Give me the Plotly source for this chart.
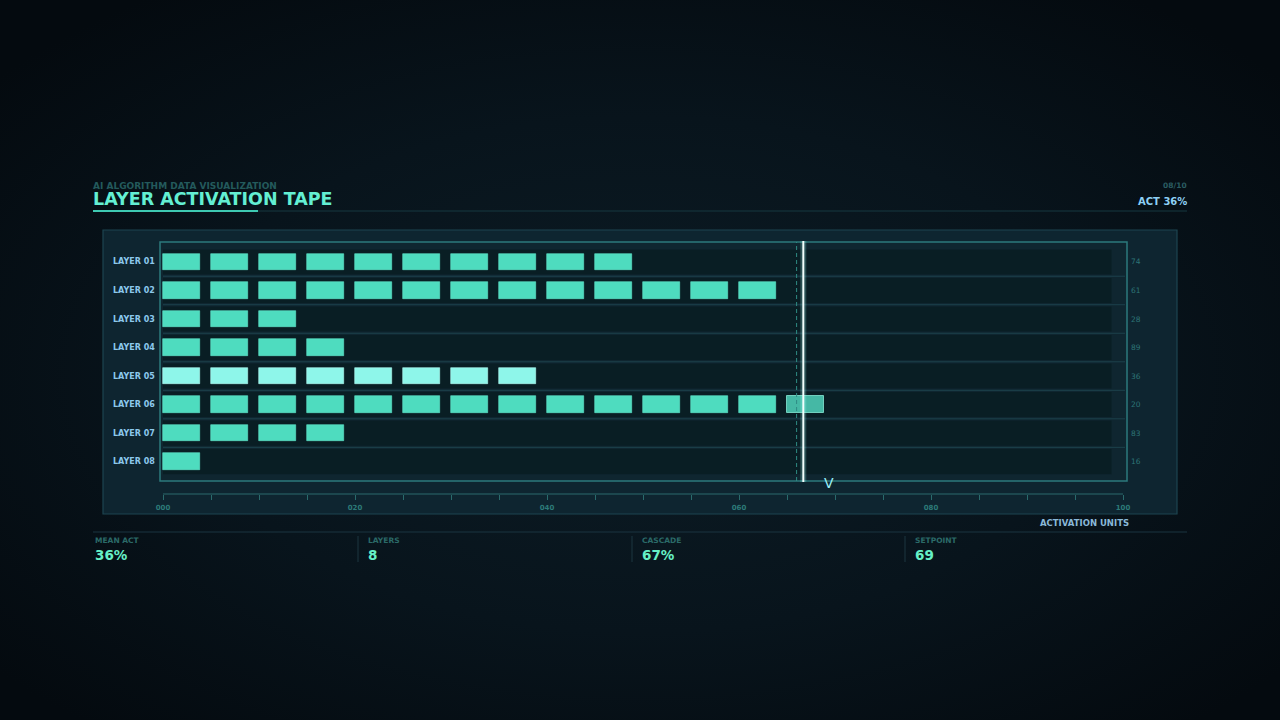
import base64
import plotly.graph_objects as go

# ---------------- data ----------------
layers = ["LAYER 01", "LAYER 02", "LAYER 03", "LAYER 04",
          "LAYER 05", "LAYER 06", "LAYER 07", "LAYER 08"]
activation = [51, 66, 15, 21, 40, 70, 20, 5]
side_values = [74, 61, 28, 89, 36, 20, 83, 16]
highlight_layer = "LAYER 05"
block_size = 5
cascade = 66.7
reference_mark = 66
setpoint = 69
tick_vals = list(range(0, 101, 5))
tick_labels = [f"{v:03d}" if v % 20 == 0 else "" for v in tick_vals]
page_label = "08/10"

# ---------------- helpers ----------------
W, H = 1280, 720
def px(x):
    return x / W
def py(y):
    return 1 - y / H

FONT = "DejaVu Sans"
BLOCK = "#4edcbf"
BLOCK_HI = "#8ef6ea"
BLOCK_DIM = "rgba(80,212,188,0.85)"

# build blocks
norm_y, norm_x, norm_b = [], [], []
hi_y, hi_x, hi_b = [], [], []
dim_y, dim_x, dim_b = [], [], []
block_w = block_size * 0.775
for i, (name, val) in enumerate(zip(layers, activation)):
    n = val // block_size
    for k in range(n):
        start = k * block_size
        if start <= cascade < start + block_size:
            dim_y.append(i); dim_x.append(block_w); dim_b.append(start)
        elif name == highlight_layer:
            hi_y.append(i); hi_x.append(block_w); hi_b.append(start)
        else:
            norm_y.append(i); norm_x.append(block_w); norm_b.append(start)

fig = go.Figure()
bar_h = 0.58
fig.add_trace(go.Bar(orientation="h", y=norm_y, x=norm_x, base=norm_b, width=bar_h,
                     marker=dict(color=BLOCK, line=dict(width=0.6, color="#63e8cf")),
                     showlegend=False, hoverinfo="skip"))
fig.add_trace(go.Bar(orientation="h", y=hi_y, x=hi_x, base=hi_b, width=bar_h,
                     marker=dict(color=BLOCK_HI, line=dict(width=0.6, color="#b5fff6")),
                     showlegend=False, hoverinfo="skip"))
fig.add_trace(go.Bar(orientation="h", y=dim_y, x=dim_x, base=dim_b, width=bar_h,
                     marker=dict(color=BLOCK_DIM, line=dict(width=1, color="rgba(140,240,220,0.75)")),
                     showlegend=False, hoverinfo="skip"))
# hidden trace to bring in the secondary tick axis
fig.add_trace(go.Scatter(x=[0, 100], y=[0, 0], xaxis="x2", yaxis="y",
                         mode="markers", marker=dict(opacity=0), showlegend=False,
                         hoverinfo="skip"))

# ---------------- background gradient ----------------
svg = f'''<svg xmlns="http://www.w3.org/2000/svg" width="{W}" height="{H}">
<defs><radialGradient id="g" cx="50%" cy="52%" r="65%">
<stop offset="0%" stop-color="#0c1c25"/>
<stop offset="55%" stop-color="#08141c"/>
<stop offset="100%" stop-color="#040a0f"/>
</radialGradient></defs>
<rect width="100%" height="100%" fill="url(#g)"/></svg>'''
bg_uri = "data:image/svg+xml;base64," + base64.b64encode(svg.encode()).decode()

shapes = []
# panel
shapes.append(dict(type="rect", xref="paper", yref="paper", x0=px(103), x1=px(1177),
                   y0=py(514), y1=py(230), fillcolor="#0e2530",
                   line=dict(color="#1d4550", width=1.2), layer="below"))
# plot area fill
shapes.append(dict(type="rect", xref="paper", yref="paper", x0=px(160), x1=px(1127),
                   y0=py(481), y1=py(242), fillcolor="#0f2630",
                   line=dict(width=0), layer="below"))
# row tracks and separators
for i in range(len(layers)):
    shapes.append(dict(type="rect", xref="x", yref="y", x0=0, x1=98.8,
                       y0=i - 0.44, y1=i + 0.44, fillcolor="rgba(8,28,32,0.75)",
                       line=dict(width=0), layer="below"))
    if i < len(layers) - 1:
        shapes.append(dict(type="line", xref="paper", yref="y", x0=px(163), x1=px(1125),
                           y0=i + 0.5, y1=i + 0.5,
                           line=dict(color="rgba(45,100,110,0.45)", width=1), layer="below"))
# plot frame
shapes.append(dict(type="rect", xref="paper", yref="paper", x0=px(160), x1=px(1127),
                   y0=py(481), y1=py(242), line=dict(color="#2c7a7c", width=1.5)))
# reference dashed line
shapes.append(dict(type="line", xref="x", yref="paper", x0=reference_mark, x1=reference_mark,
                   y0=py(481), y1=py(242), line=dict(color="#2f8c84", width=1, dash="4px,3px")))
# playhead glow + line
shapes.append(dict(type="line", xref="x", yref="paper", x0=cascade, x1=cascade,
                   y0=py(482), y1=py(241), line=dict(color="rgba(150,255,245,0.22)", width=6)))
shapes.append(dict(type="line", xref="x", yref="paper", x0=cascade, x1=cascade,
                   y0=py(482), y1=py(241), line=dict(color="#f2fffd", width=2)))
# axis base line
shapes.append(dict(type="line", xref="x", yref="paper", x0=0, x1=100,
                   y0=py(494), y1=py(494), line=dict(color="#2a6a6c", width=1)))
# header rule
shapes.append(dict(type="line", xref="paper", yref="paper", x0=px(93), x1=px(1187),
                   y0=py(211), y1=py(211), line=dict(color="#173840", width=1)))
shapes.append(dict(type="line", xref="paper", yref="paper", x0=px(93), x1=px(258),
                   y0=py(211), y1=py(211), line=dict(color="#3ec9b2", width=2)))
# footer rule and dividers
shapes.append(dict(type="line", xref="paper", yref="paper", x0=px(93), x1=px(1187),
                   y0=py(532), y1=py(532), line=dict(color="#1a3440", width=1)))
for xd in [358, 632, 905]:
    shapes.append(dict(type="line", xref="paper", yref="paper", x0=px(xd), x1=px(xd),
                       y0=py(562), y1=py(536), line=dict(color="#1c3640", width=1)))

ann = []
def text(x, y, s, size, color, anchor="left", weight="bold", yanchor="middle", xref="paper", yref="paper", family=FONT):
    ann.append(dict(x=x, y=y, xref=xref, yref=yref, text=s, showarrow=False,
                    xanchor=anchor, yanchor=yanchor, borderpad=0,
                    font=dict(family=family, size=size, color=color, weight=weight)))

text(px(92), py(186), "AI ALGORITHM DATA VISUALIZATION", 9, "#235a5c")
text(px(92), py(199), "LAYER ACTIVATION TAPE", 17.5, "#63efd3")
text(px(1188), py(186), page_label, 7.5, "#2a5c62", anchor="right")
mean_act = round(sum(activation) / len(activation))
text(px(1188), py(201), f"ACT {mean_act}%", 10, "#8ed0f5", anchor="right")

for i, name in enumerate(layers):
    text(px(156), i, name, 8, "#8cc8ec", anchor="right", yref="y")
    text(px(1130), i, str(side_values[i]), 7.5, "#2d7476", anchor="left", yref="y", weight="normal")

# setpoint marker
ann.append(dict(x=setpoint, y=py(483), xref="x", yref="paper", text="V", showarrow=False,
                xanchor="center", yanchor="middle", xshift=4,
                font=dict(family=FONT, size=14, color="#9aeef6")))

text(px(1130), py(523), "ACTIVATION UNITS", 8.5, "#8ab8d8", anchor="right")

stats = [("MEAN ACT", f"{mean_act}%", 94), ("LAYERS", str(len(layers)), 367),
         ("CASCADE", f"{round(cascade)}%", 641), ("SETPOINT", str(setpoint), 914)]
for lab, val, xx in stats:
    text(px(xx), py(540), lab, 7.5, "#2b6a68")
    text(px(xx), py(555), val, 13.5, "#66f0c6")

fig.update_layout(
    width=W, height=H, margin=dict(l=0, r=0, t=0, b=0, pad=0, autoexpand=False), autosize=False,
    paper_bgcolor="#060d13", plot_bgcolor="rgba(0,0,0,0)",
    barmode="overlay", bargap=0,
    xaxis=dict(domain=[px(160), px(1127)], range=[-0.3125, 100.4167],
               showgrid=False, zeroline=False, showticklabels=False, ticks="",
               showline=False, fixedrange=True, automargin=False),
    xaxis2=dict(domain=[px(160), px(1127)], range=[-0.3125, 100.4167], anchor="free",
                overlaying="x", side="bottom", position=py(494),
                tickmode="array", tickvals=tick_vals, ticktext=tick_labels,
                ticks="outside", ticklen=5, tickwidth=1, tickcolor="#2a6a6c",
                tickfont=dict(family=FONT, size=7, color="#2c7a78", weight="bold"),
                ticklabelstandoff=2, fixedrange=True, automargin=False,
                showgrid=False, zeroline=False, showline=False),
    yaxis=dict(domain=[py(481), py(242)], range=[7.68, -0.7], showgrid=False,
               zeroline=False, showticklabels=False, ticks="", fixedrange=True,
               automargin=False),
    shapes=shapes, annotations=ann,
    images=[dict(source=bg_uri, xref="paper", yref="paper", x=0, y=1, sizex=1, sizey=1,
                 sizing="stretch", layer="below", xanchor="left", yanchor="top")],
)

fig.write_html("out.html",
               config=dict(displayModeBar=False, responsive=False),
               default_width="1280px", default_height="720px",
               post_script=("document.documentElement.style.margin='0';"
                            "document.documentElement.style.overflow='hidden';"
                            "document.body.style.margin='0';"
                            "document.body.style.background='#060d13';"
                            "document.body.style.overflow='hidden';"))
